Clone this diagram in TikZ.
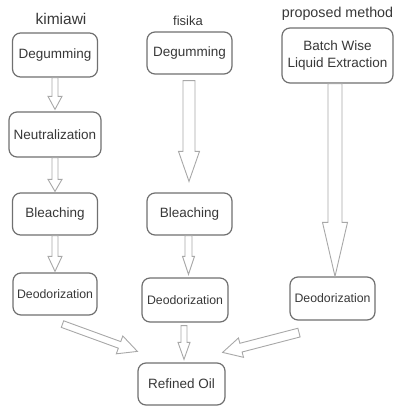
\documentclass[tikz,border=0pt]{standalone}
\usepackage{fontspec}
\setmainfont{Liberation Sans}
\usetikzlibrary{calc}
\definecolor{boxgray}{HTML}{707070}
\definecolor{arrowgray}{HTML}{A8A8A8}
\definecolor{textgray}{HTML}{383838}

% hollow block arrow: #1 tail, #2 tip, #3 shaft half width, #4 head half width, #5 head length
\newcommand\blockarrow[5]{%
  \coordinate (ba-h) at ($(#2)!#5!(#1)$);
  \draw[blockarr]
    ($(#1)!#3!90:(#2)$) -- ($(ba-h)!#3!-90:(#1)$) -- ($(ba-h)!#4!-90:(#1)$) -- (#2)
    -- ($(ba-h)!#4!90:(#1)$) -- ($(ba-h)!#3!90:(#1)$) -- ($(#1)!#3!-90:(#2)$) -- cycle;
}

\begin{document}
\begin{tikzpicture}[x=1pt,y=-1pt,
  stepbox/.style={draw=boxgray, line width=1.2pt, rounded corners=8pt, fill=white,
    text=textgray, inner sep=0pt, align=center,
    font=\fontsize{13.5}{17}\selectfont},
  deobox/.style={stepbox, font=\fontsize{12.3}{15}\selectfont},
  title/.style={text=textgray, inner sep=0pt, anchor=base},
  blockarr/.style={draw=arrowgray, line width=0.9pt, fill=white, line join=miter}]
\useasboundingbox (0,0) rectangle (405,406);

% column titles
\node[title, font=\fontsize{15.5}{18}\selectfont] (tk) at (61,25) {kimiawi};
\node[title, font=\fontsize{13}{16}\selectfont] (tf) at (188,26) {fisika};
\node[title, font=\fontsize{14.3}{17}\selectfont] (tp) at (337.5,18) {proposed method};

% kimiawi column
\node[stepbox, minimum width=85pt, minimum height=44pt] (kdeg) at (55,55) {Degumming};
\node[stepbox, minimum width=92pt, minimum height=45pt] (kneu) at (55,134.5) {Neutralization};
\node[stepbox, minimum width=85pt, minimum height=42pt] (kble) at (55,214) {Bleaching};
\node[deobox, minimum width=84pt, minimum height=42pt] (kdeo) at (55,294) {Deodorization};

% fisika column
\node[stepbox, minimum width=85pt, minimum height=42pt] (fdeg) at (189.5,53) {Degumming};
\node[stepbox, minimum width=85pt, minimum height=42pt] (fble) at (189.5,214) {Bleaching};
\node[deobox, minimum width=86pt, minimum height=44pt] (fdeo) at (185,300) {Deodorization};

% proposed method column
\node[stepbox, minimum width=111pt, minimum height=55pt] (pbat) at (337.5,55.5) {Batch Wise\\Liquid Extraction};
\node[deobox, minimum width=85pt, minimum height=43pt] (pdeo) at (332.5,298.5) {Deodorization};

% common product
\node[stepbox, minimum width=87pt, minimum height=42pt] (ref) at (181.5,384) {Refined Oil};

% arrow end points
\coordinate (a1t) at ($(kneu.north)+(0,-2)$);
\coordinate (a2t) at ($(kble.north)+(0,-1)$);
\coordinate (a3t) at ($(kdeo.north)+(0,-1)$);
\coordinate (b1s) at ($(fdeg.south)+(-0.5,6)$);
\coordinate (b1t) at ($(fdeg.south |- fble.north)+(-0.5,-11)$);
\coordinate (b2s) at ($(fble.south)+(-1,0)$);
\coordinate (b2t) at ($(fble.south |- fdeo.north)+(-1,-3)$);
\coordinate (b3s) at ($(fdeo.south)+(-1,3)$);
\coordinate (b3t) at ($(fdeo.south |- ref.north)+(-1,-3)$);
\coordinate (c1s) at ($(pbat.south)+(-2.5,0)$);
\coordinate (c1t) at ($(pbat.south |- pdeo.north)+(-2.5,0)$);
\coordinate (d1s) at ($(kdeo.south)+(7.5,8.5)$);
\coordinate (d1t) at ($(ref.north west)+(0,-11)$);
\coordinate (d2s) at ($(pdeo.south)+(-33.5,12)$);
\coordinate (d2t) at ($(ref.north east)+(-3,-10)$);

% arrows
\blockarrow{kdeg.south}{a1t}{3pt}{7pt}{13pt}
\blockarrow{kneu.south}{a2t}{3pt}{7pt}{12pt}
\blockarrow{kble.south}{a3t}{3pt}{7pt}{15pt}
\blockarrow{b1s}{b1t}{6pt}{10.5pt}{30pt}
\blockarrow{b2s}{b2t}{3.5pt}{6pt}{18pt}
\blockarrow{b3s}{b3t}{3pt}{6pt}{17pt}
\blockarrow{c1s}{c1t}{7pt}{12.5pt}{54pt}
\blockarrow{d1s}{d1t}{3.5pt}{9.5pt}{19pt}
\blockarrow{d2s}{d2t}{4.5pt}{10pt}{19pt}
\end{tikzpicture}
\end{document}
